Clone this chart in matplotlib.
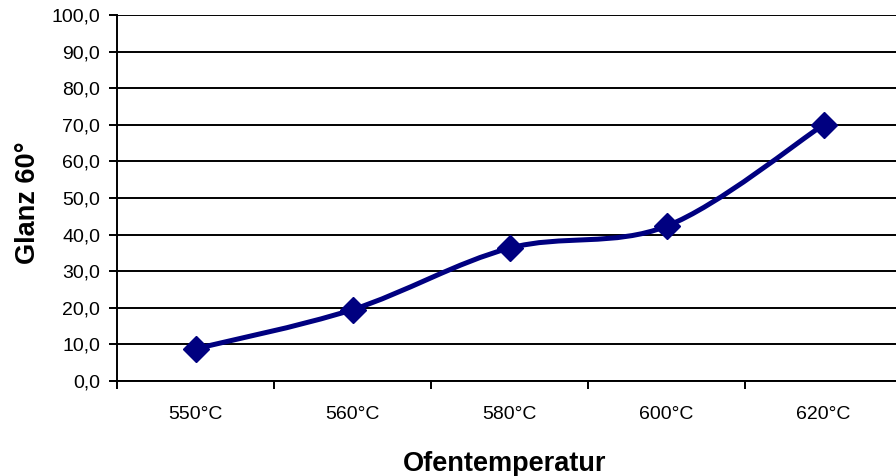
import numpy as np
import matplotlib.pyplot as plt
from matplotlib.path import Path
from matplotlib.patches import PathPatch
from matplotlib.ticker import FuncFormatter

plt.rcParams['font.family'] = ['Liberation Sans', 'DejaVu Sans']

categories = ["550°C", "560°C", "580°C", "600°C", "620°C"]
glanz = [8.8, 19.5, 36.3, 42.3, 70.0]

line_color = "#000080"


def smooth_path(xs, ys, tension=1.0 / 6.0):
    # Excel-style smoothing: cubic Bezier segments with Catmull-Rom control points
    pts = np.column_stack([xs, ys]).astype(float)
    n = len(pts)
    verts = [pts[0]]
    codes = [Path.MOVETO]
    for i in range(n - 1):
        p0 = pts[i - 1] if i > 0 else pts[i]
        p1 = pts[i]
        p2 = pts[i + 1]
        p3 = pts[i + 2] if i + 2 < n else pts[i + 1]
        c1 = p1 + (p2 - p0) * tension
        c2 = p2 - (p3 - p1) * tension
        verts += [c1, c2, p2]
        codes += [Path.CURVE4] * 3
    return Path(verts, codes)


fig = plt.figure(figsize=(8.96, 4.76), dpi=100)
ax = fig.add_axes([117 / 896, 95 / 476, 785 / 896, 366 / 476])

x = np.arange(len(categories))
ax.add_patch(PathPatch(smooth_path(x, glanz), facecolor="none",
                       edgecolor=line_color, lw=3.6, zorder=3, clip_on=False))
ax.plot(x, glanz, linestyle="none", marker="D", markersize=13,
        color=line_color, zorder=4, clip_on=False)

ax.set_xlim(-0.5, len(categories) - 0.5)
ax.set_ylim(0, 100)
ax.set_yticks(np.arange(0, 101, 10))
ax.yaxis.set_major_formatter(FuncFormatter(lambda v, p: f"{v:.1f}".replace(".", ",")))
ax.set_xticks(x)
ax.set_xticklabels(categories)
ax.set_xticks(np.arange(-0.5, len(categories) + 0.5, 1), minor=True)

ax.grid(axis="y", color="black", lw=1.4)
ax.set_axisbelow(True)
for s in ["top", "right"]:
    ax.spines[s].set_visible(False)
ax.spines["left"].set_linewidth(1.4)
ax.spines["bottom"].set_linewidth(1.4)

ax.tick_params(axis="y", which="major", length=6, width=1.4, labelsize=14, pad=6)
ax.tick_params(axis="x", which="major", length=0, labelsize=14, pad=18)
ax.tick_params(axis="x", which="minor", length=6, width=1.4, direction="out")

fig.text(28 / 896, 1 - 203 / 476, "Glanz 60°", fontsize=19.5, fontweight="bold",
         rotation=90, ha="center", va="center")
fig.text(505 / 896, 1 - 464 / 476, "Ofentemperatur", fontsize=19.5, fontweight="bold",
         ha="center", va="center")

fig.savefig("out.png", dpi=100)
